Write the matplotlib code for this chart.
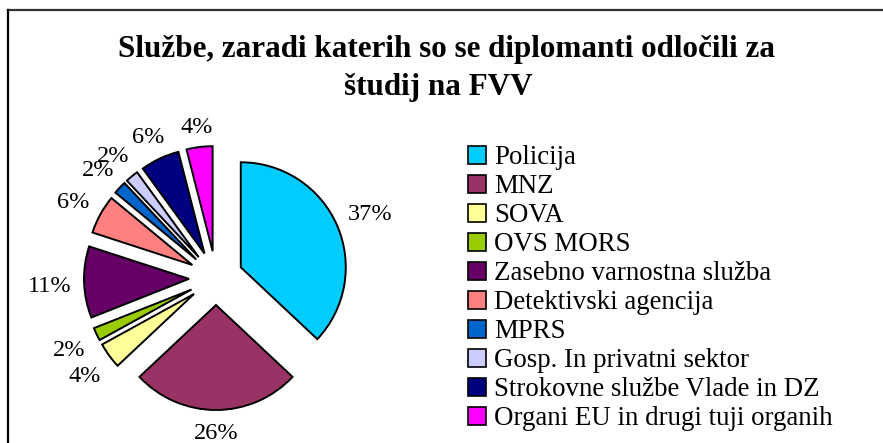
import math
import matplotlib
matplotlib.use("Agg")
import matplotlib.pyplot as plt
from matplotlib.lines import Line2D

# data
categories = ["Policija", "MNZ", "SOVA", "OVS MORS", "Zasebno varnostna služba",
              "Detektivski agencija", "MPRS", "Gosp. In privatni sektor",
              "Strokovne službe Vlade in DZ", "Organi EU in drugi tuji organih"]
shares = [37, 26, 4, 2, 11, 6, 2, 2, 6, 4]
colors = ["#00CCFF", "#993366", "#FFFF99", "#99CC00", "#660066",
          "#FF8080", "#0066CC", "#CCCCFF", "#000080", "#FF00FF"]
title_lines = ["Službe, zaradi katerih so se diplomanti odločili za", "študij na FVV"]

plt.rcParams['font.family'] = ['Liberation Serif', 'DejaVu Serif']

W, H = 883, 443
fig = plt.figure(figsize=(W / 100, H / 100), dpi=100)
ax = fig.add_axes([0, 0, 1, 1])

# axes in pixel units, so explode is an absolute offset
radius = 105
wedges, texts, autotexts = ax.pie(
    shares, colors=colors, startangle=90, counterclock=False,
    explode=[27] * len(shares), radius=radius, center=(216, 165),
    autopct=lambda p: f"{p:.0f}%", pctdistance=1.3,
    wedgeprops=dict(edgecolor="black", linewidth=1.4),
    textprops=dict(fontsize=17.5, color="black"))

ax.set_xlim(0, W)
ax.set_ylim(0, H)
ax.set_aspect("equal")
ax.axis("off")

# place labels Excel-like: fixed gap outside the edge, allowing for text size
fig.canvas.draw()
renderer = fig.canvas.get_renderer()
gap = 12
for w, t in zip(wedges, autotexts):
    ang = math.radians((w.theta1 + w.theta2) / 2)
    cx, cy = w.center
    bb = t.get_window_extent(renderer)
    half = abs(math.cos(ang)) * bb.width / 2 + abs(math.sin(ang)) * bb.height * 0.42
    d = w.r + gap + half
    t.set_position((cx + d * math.cos(ang), cy + d * math.sin(ang) - 3))

# chart area border (top and left visible, rest cut off)
ax.plot([8, W], [H - 10, H - 10], color="#333333", lw=1.6, clip_on=False)
ax.plot([8, 8], [H - 10, 0], color="black", lw=1.6, clip_on=False)

# title, two centred lines (first one sits a bit to the right as in the original)
fig.text(446.5 / W, 1 - 49 / H, title_lines[0], ha="center", va="center",
         fontsize=22.4, fontweight="bold")
fig.text(438 / W, 1 - 88 / H, title_lines[1], ha="center", va="center",
         fontsize=22.4, fontweight="bold")

handles = [Line2D([0], [0], marker="s", linestyle="", markersize=13.5,
                  markerfacecolor=c, markeredgecolor="black", markeredgewidth=1.2)
           for c in colors]
fig.legend(handles, categories, loc="upper left", bbox_to_anchor=(0.517, 0.697),
           frameon=False, fontsize=19.4, handlelength=0.7, handletextpad=0.3,
           labelspacing=0.15, borderaxespad=0)

fig.savefig("out.png", dpi=100)
